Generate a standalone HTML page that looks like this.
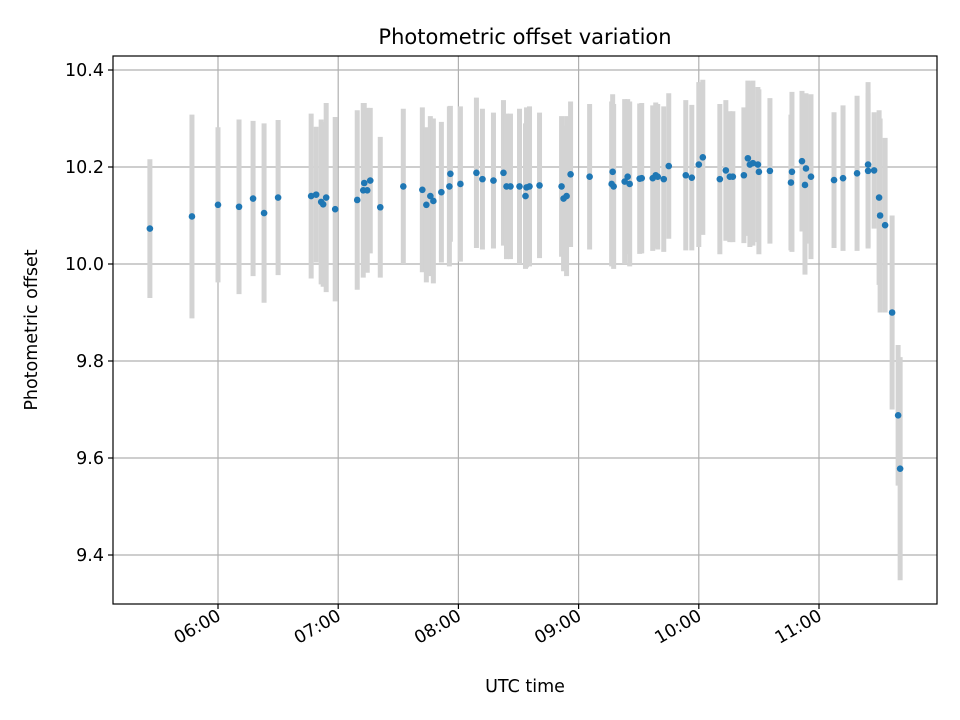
<!DOCTYPE html>
<html><head><meta charset="utf-8"><style>
html,body{margin:0;padding:0;background:#fff;}
svg{display:block;font-family:"DejaVu Sans","Liberation Sans",sans-serif;}
</style></head><body>
<svg id="chart" width="960" height="720" viewBox="0 0 960 720" xmlns="http://www.w3.org/2000/svg">
<rect x="0" y="0" width="960" height="720" fill="#fff"/>
<text x="525" y="44" font-size="21" text-anchor="middle" fill="#000">Photometric offset variation</text>
<g id="grid"></g><g id="errs"></g><g id="pts"></g><g id="axes"></g>
<text x="525" y="692" font-size="17.5" text-anchor="middle">UTC time</text>
<text transform="translate(37,330) rotate(-90)" font-size="17.5" text-anchor="middle">Photometric offset</text>
</svg>
<script>
// x positions as pixel-read times (decimal hours UTC)
const xpx = [150,192,218,239,253,264,278,311,316,321,323,326,335,357,363,364,367,370,380,403,422,426,430,433,441,449,450,460,476,482,493,503,506,510,519,525,526,529,539,561,563,566,570,589,611,612,613,624,627,629,639,641,652,655,657,663,668,685,691,698,702,719,725,729,732,743,747,749,752,757,758,769,790,791,801,805,804,810,833,842,856,867,867,873,878,879,884,891,897,899];
const times = xpx.map(p => 6 + (p - 218) / 120);
const offsets = [10.073,10.098,10.122,10.118,10.135,10.105,10.137,10.140,10.143,10.128,10.123,10.137,10.113,10.132,10.152,10.167,10.152,10.172,10.117,10.160,10.153,10.122,10.140,10.130,10.148,10.160,10.186,10.165,10.188,10.175,10.172,10.188,10.160,10.160,10.160,10.140,10.158,10.160,10.162,10.160,10.135,10.140,10.185,10.180,10.165,10.190,10.160,10.170,10.180,10.165,10.176,10.177,10.177,10.183,10.180,10.175,10.202,10.183,10.178,10.205,10.220,10.175,10.193,10.180,10.180,10.183,10.218,10.205,10.208,10.205,10.190,10.192,10.168,10.190,10.212,10.197,10.163,10.180,10.173,10.177,10.187,10.205,10.192,10.193,10.137,10.100,10.080,9.900,9.688,9.578];
const errors = [0.143,0.21,0.16,0.18,0.16,0.185,0.16,0.17,0.14,0.17,0.17,0.195,0.19,0.185,0.18,0.165,0.17,0.15,0.145,0.16,0.17,0.16,0.165,0.17,0.145,0.165,0.14,0.16,0.155,0.145,0.14,0.15,0.15,0.15,0.16,0.15,0.165,0.165,0.15,0.145,0.15,0.165,0.15,0.15,0.17,0.16,0.17,0.17,0.16,0.17,0.155,0.155,0.15,0.15,0.15,0.15,0.15,0.155,0.15,0.17,0.16,0.155,0.145,0.135,0.135,0.14,0.16,0.17,0.17,0.16,0.17,0.15,0.14,0.165,0.145,0.155,0.185,0.17,0.14,0.15,0.16,0.17,0.16,0.12,0.18,0.2,0.18,0.2,0.145,0.23];
const yTicks = [9.4,9.6,9.8,10.0,10.2,10.4];
const yTickLabels = ["9.4","9.6","9.8","10.0","10.2","10.4"];
const xTicks = [6,7,8,9,10,11];
const xTickLabels = ["06:00","07:00","08:00","09:00","10:00","11:00"];

const L=113,R=937,T=56,B=604;
const X = h => 218 + (h - 6) * 120.2;
const Y = v => 264 - (v - 10) * 485;
const NS="http://www.w3.org/2000/svg";
function mk(tag, attrs, parent){const e=document.createElementNS(NS,tag);for(const k in attrs)e.setAttribute(k,attrs[k]);parent.appendChild(e);return e;}
const grid=document.getElementById('grid'),errs=document.getElementById('errs'),pts=document.getElementById('pts'),axes=document.getElementById('axes');
yTicks.forEach((v,i)=>{
  const g=mk('line',{x1:L,x2:R,y1:Y(v),y2:Y(v),stroke:'#b0b0b0','stroke-width':1.2},grid);
  
  
  mk('line',{x1:L-5,x2:L,y1:Y(v),y2:Y(v),stroke:'#000','stroke-width':1.2},axes);
  const t=mk('text',{x:L-9,y:Y(v)+6,'font-size':17.5,'text-anchor':'end'},axes);
  t.textContent=yTickLabels[i];
  
  
});
xTicks.forEach((h,i)=>{
  const g=mk('line',{x1:X(h),x2:X(h),y1:T,y2:B,stroke:'#b0b0b0','stroke-width':1.2},grid);
  
  
  mk('line',{x1:X(h),x2:X(h),y1:B,y2:B+5,stroke:'#000','stroke-width':1.2},axes);
  const t=mk('text',{x:0,y:0,'font-size':17.5,'text-anchor':'end',transform:`translate(${X(h)+4},${B+15}) rotate(-30)`},axes);
  t.textContent=xTickLabels[i];
  
  
});
times.forEach((h,i)=>{
  const e=mk('line',{x1:X(h),x2:X(h),y1:Y(offsets[i]+errors[i]),y2:Y(offsets[i]-errors[i]),stroke:'#d3d3d3','stroke-width':5},errs);
  
  
  const c=mk('circle',{cx:X(h),cy:Y(offsets[i]),r:3.3,fill:'#1f77b4'},pts);
  
  
});
const fr=mk('rect',{x:L,y:T,width:R-L,height:B-T,fill:'none',stroke:'#000','stroke-width':1.2},axes);


</script>
</body></html>
